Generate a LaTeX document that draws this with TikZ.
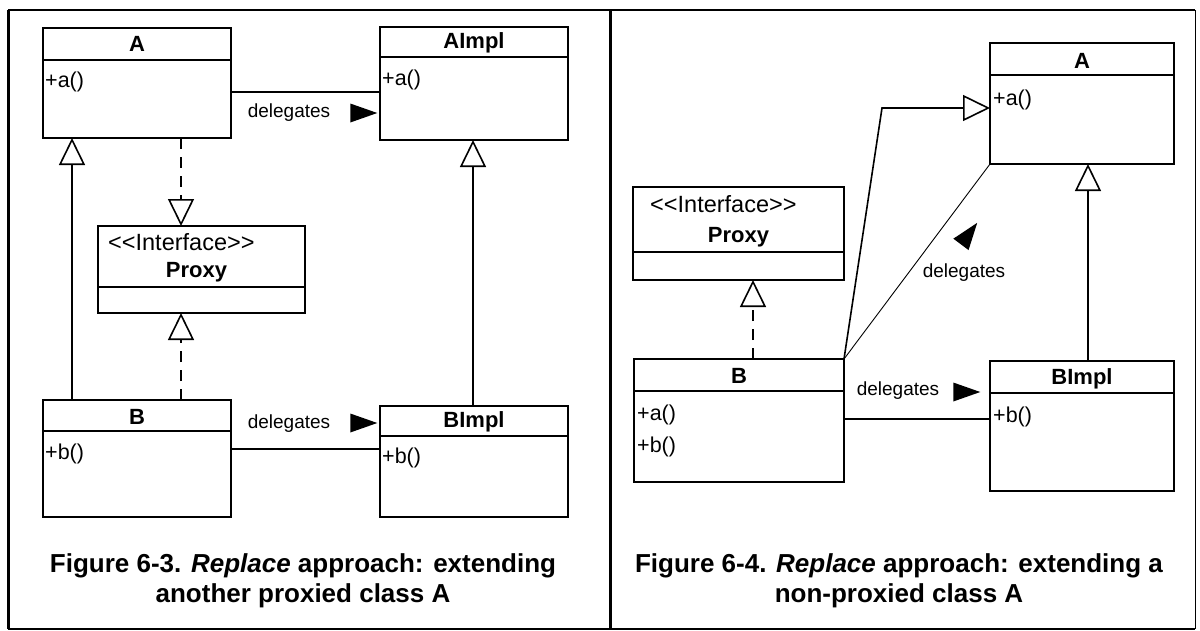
\documentclass[tikz,border=0pt]{standalone}
\usepackage{fontspec}
\setmainfont{Liberation Sans}
\usetikzlibrary{arrows.meta,shapes.geometric}

\begin{document}
\begin{tikzpicture}[x=1pt,y=-1pt,
   cls/.style={draw,line width=1.7pt,anchor=north west,inner sep=0pt,outer sep=0pt},
   clsname/.style={font=\bfseries\fontsize{22}{24}\selectfont,inner sep=0pt},
   meth/.style={font=\fontsize{21.5}{22}\selectfont,anchor=west,inner sep=0pt},
   stereo/.style={font=\fontsize{23.5}{24}\selectfont,anchor=west,inner sep=0pt},
   lbl/.style={font=\fontsize{19}{20}\selectfont,inner sep=0pt},
   dirmark/.style={isosceles triangle,isosceles triangle stretches,fill=black,minimum height=27pt,minimum width=19pt,inner sep=0pt},
   gen/.style={line width=1.6pt,-{Triangle[open,length=27pt,width=26pt,line width=1.6pt]}},
   real/.style={gen,dash pattern=on 11pt off 8pt},
   assoc/.style={line width=1.6pt},
   figcap/.style={font=\bfseries\fontsize{26}{30}\selectfont,align=center,inner sep=0pt}]
   \useasboundingbox (0,0) rectangle (1200,630);
   \draw[line width=3pt] (8,10) -- (8,629);
   \draw[line width=3pt] (610,10) -- (610,629);
   \draw[line width=2pt] (8,10) -- (1195,10);
   \draw[line width=1.5pt] (8,629) -- (1195,629);
   \draw[line width=1pt] (1195,10) -- (1195,629);

   \node[cls,minimum width=188pt,minimum height=110pt] (A) at (43,28) {};
   \draw[line width=1.7pt] ([yshift=-32pt]A.north west) -- ([yshift=-32pt]A.north east);
   \node[clsname] (A-name) at ([yshift=-16pt]A.north) {A};
   \node[meth] (A-op) at ([xshift=2pt,yshift=-54pt]A.north west) {+a()};
   \node[cls,minimum width=188pt,minimum height=113pt] (AImpl) at (380,27) {};
   \draw[line width=1.7pt] ([yshift=-30pt]AImpl.north west) -- ([yshift=-30pt]AImpl.north east);
   \node[clsname] (AImpl-name) at ([yshift=-16pt]AImpl.north) {AImpl};
   \node[meth] (AImpl-op) at ([xshift=2pt,yshift=-53pt]AImpl.north west) {+a()};
   \node[cls,minimum width=207pt,minimum height=87pt] (Proxy) at (98,226) {};
   \draw[line width=1.7pt] ([yshift=-61pt]Proxy.north west) -- ([yshift=-61pt]Proxy.north east);
   \node[stereo] (Proxy-st) at ([xshift=10pt,yshift=-16pt]Proxy.north west) {<{}<Interface>{}>};
   \node[clsname] (Proxy-name) at ([xshift=-5pt,yshift=-46pt]Proxy.north) {Proxy};
   \node[cls,minimum width=188pt,minimum height=117pt] (B) at (43,400) {};
   \draw[line width=1.7pt] ([yshift=-31pt]B.north west) -- ([yshift=-31pt]B.north east);
   \node[clsname] (B-name) at ([yshift=-17pt]B.north) {B};
   \node[meth] (B-op) at ([xshift=2pt,yshift=-54pt]B.north west) {+b()};
   \node[cls,minimum width=188pt,minimum height=111pt] (BImpl) at (380,406) {};
   \draw[line width=1.7pt] ([yshift=-30pt]BImpl.north west) -- ([yshift=-30pt]BImpl.north east);
   \node[clsname] (BImpl-name) at ([yshift=-16pt]BImpl.north) {BImpl};
   \node[meth] (BImpl-op) at ([xshift=2pt,yshift=-52pt]BImpl.north west) {+b()};

   \draw[assoc] ([yshift=-64pt]A.north east) -- ([yshift=-64pt]A.north east -| AImpl.west);
   \node[lbl] (dl1) at (289,113) {delegates};
   \node[dirmark] (dm1) at (357,113) {};
   \draw[gen] ([xshift=29pt]B.north west) -- ([xshift=29pt]A.south west);
   \draw[gen] ([xshift=93pt]BImpl.north west) -- ([xshift=93pt]AImpl.south west);
   \draw[real] ([xshift=138pt]A.south west) -- ([xshift=138pt]A.south west |- Proxy.north);
   \draw[real] ([xshift=138pt]B.north west) -- ([xshift=138pt]B.north west |- Proxy.south);
   \draw[assoc] ([yshift=-49pt]B.north east) -- ([yshift=-49pt]B.north east -| BImpl.west);
   \node[lbl] (dl2) at (289,424) {delegates};
   \node[dirmark] (dm2) at (357,423) {};
   \node[figcap] (cap1) at (303,581) {Figure 6-3. \textit{Replace} approach: extending\\another proxied class A};

   \node[cls,minimum width=184pt,minimum height=121pt] (A2) at (990,43) {};
   \draw[line width=1.7pt] ([yshift=-32pt]A2.north west) -- ([yshift=-32pt]A2.north east);
   \node[clsname] (A2-name) at ([yshift=-18pt]A2.north) {A};
   \node[meth] (A2-op) at ([xshift=3pt,yshift=-57pt]A2.north west) {+a()};
   \node[cls,minimum width=211pt,minimum height=93pt] (Proxy2) at (633,187) {};
   \draw[line width=1.7pt] ([yshift=-65pt]Proxy2.north west) -- ([yshift=-65pt]Proxy2.north east);
   \node[stereo] (Proxy2-st) at ([xshift=17pt,yshift=-17pt]Proxy2.north west) {<{}<Interface>{}>};
   \node[clsname] (Proxy2-name) at ([yshift=-50pt]Proxy2.north) {Proxy};
   \node[cls,minimum width=210pt,minimum height=123pt] (B2) at (634,359) {};
   \draw[line width=1.7pt] ([yshift=-32pt]B2.north west) -- ([yshift=-32pt]B2.north east);
   \node[clsname] (B2-name) at ([yshift=-17pt]B2.north) {B};
   \node[meth] (B2-op1) at ([xshift=3pt,yshift=-56pt]B2.north west) {+a()};
   \node[meth] (B2-op2) at ([xshift=3pt,yshift=-88pt]B2.north west) {+b()};
   \node[cls,minimum width=184pt,minimum height=130pt] (BImpl2) at (990,361) {};
   \draw[line width=1.7pt] ([yshift=-32pt]BImpl2.north west) -- ([yshift=-32pt]BImpl2.north east);
   \node[clsname] (BImpl2-name) at ([yshift=-18pt]BImpl2.north) {BImpl};
   \node[meth] (BImpl2-op) at ([xshift=3pt,yshift=-56pt]BImpl2.north west) {+b()};

   \coordinate (bend) at (882,108);
   \draw[gen] (B2.north east) -- (bend) -- (bend -| A2.west);
   \draw[line width=0.9pt] (B2.north east) -- (A2.south west);
   \node[dirmark,rotate=53] (dm3) at (965,239) {};
   \node[lbl] (dl3) at (964,273) {delegates};
   \draw[gen] ([xshift=98pt]BImpl2.north west) -- ([xshift=98pt]A2.south west);
   \draw[real] ([xshift=119pt]B2.north west) -- ([xshift=119pt]B2.north west |- Proxy2.south);
   \draw[assoc] ([yshift=-60pt]B2.north east) -- ([yshift=-60pt]B2.north east -| BImpl2.west);
   \node[lbl] (dl4) at (898,391) {delegates};
   \node[dirmark] (dm4) at (960,392) {};
   \node[figcap] (cap2) at (899,581) {Figure 6-4. \textit{Replace} approach: extending a\\non-proxied class A};
\end{tikzpicture}
\end{document}
